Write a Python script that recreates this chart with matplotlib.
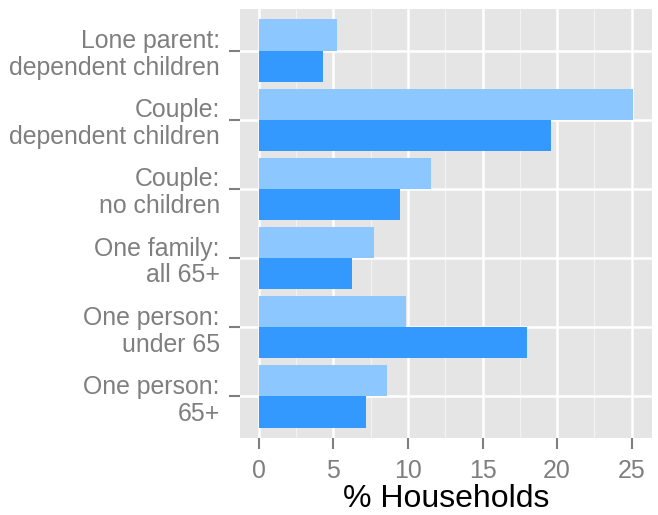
import numpy as np
import matplotlib.pyplot as plt
from matplotlib.ticker import MultipleLocator

plt.rcParams['font.family'] = ['Liberation Sans', 'DejaVu Sans']

categories = ["Lone parent:\ndependent children",
              "Couple:\ndependent children",
              "Couple:\nno children",
              "One family:\nall 65+",
              "One person:\nunder 65",
              "One person:\n65+"]
light_vals = [5.25, 25.06, 11.54, 7.72, 9.86, 8.59]
dark_vals = [4.33, 19.6, 9.48, 6.23, 17.96, 7.21]

light_col = '#8DC7FF'
dark_col = '#3399FF'

fig = plt.figure(figsize=(6.58, 5.15), dpi=100)
ax = fig.add_axes([240/658, 1 - 438/515, 412/658, 429/515])
ax.set_facecolor('#E5E5E5')

n = len(categories)
y = np.arange(n, 0, -1)  # first category on top
w = 0.45
ax.barh(y + w/2, light_vals, height=w, color=light_col, zorder=3)
ax.barh(y - w/2, dark_vals, height=w, color=dark_col, zorder=3)

ax.set_xlim(-1.255, 26.36)
ax.set_ylim(0.4, n + 0.6)
ax.xaxis.set_major_locator(MultipleLocator(5))
ax.xaxis.set_minor_locator(MultipleLocator(2.5))
ax.grid(which='major', axis='both', color='white', linewidth=1.8, zorder=1)
ax.grid(which='minor', axis='x', color='#F2F2F2', linewidth=0.9, zorder=1)
ax.set_axisbelow(True)

ax.set_yticks(y)
ax.set_yticklabels(categories, ha='right', ma='right', linespacing=1.15)
ax.tick_params(axis='both', which='major', colors='#7F7F7F', labelsize=17.9,
               length=8, width=1.5)
ax.tick_params(axis='y', pad=6.5)
ax.tick_params(axis='x', pad=7)
ax.tick_params(which='minor', length=0)
for lab in ax.get_xticklabels() + ax.get_yticklabels():
    lab.set_color('#7F7F7F')

for s in ax.spines.values():
    s.set_visible(False)

ax.set_xlabel('% Households', fontsize=23, color='black', labelpad=1)

fig.savefig('out.png', dpi=100)
